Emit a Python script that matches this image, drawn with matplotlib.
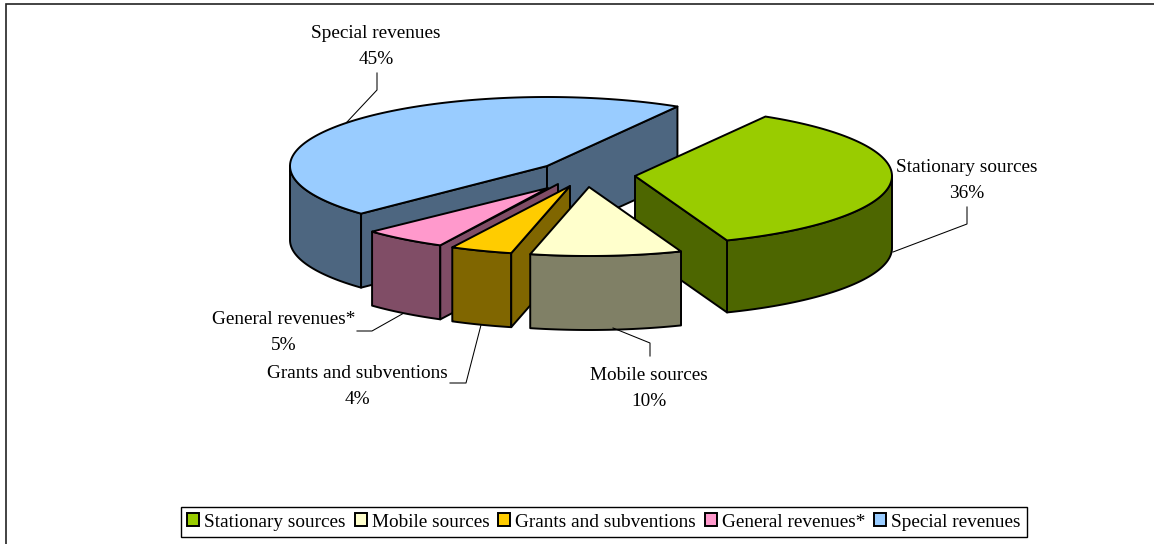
import numpy as np
import matplotlib
matplotlib.use("Agg")
import matplotlib.pyplot as plt
from matplotlib.patches import Polygon, Patch

# ---- data ----
categories = ["Stationary sources", "Mobile sources", "Grants and subventions",
              "General revenues*", "Special revenues"]
shares = [35.7, 9.5, 3.9, 5.3, 45.6]
share_labels = ["36%", "10%", "4%", "5%", "45%"]

# ---- style / layout ----
top_colors = ["#99CC00", "#FFFFCC", "#FFCC00", "#FF99CC", "#99CCFF"]
wall_colors = ["#4D6600", "#808066", "#806600", "#804D66", "#4D6680"]
apexes = [(635, 176), (589, 187), (570, 186), (558, 184), (547, 166)]
tips = [None, None, None, (548, 188), None]
depths = [72, 74, 74, 74, 74]
RX, RY = 257, 69
START = 59.5
draw_order = [4, 0, 3, 2, 1]
LW = 1.4

label_pos = [(967, 167), (649, 376), (357, 373), (284, 320), (376, 33)]
leaders = [[(967, 207), (967, 224), (893, 252)],
           [(650, 356), (650, 343), (613, 328)],
           [(450, 383), (466, 383), (481, 325)],
           [(357, 331), (372, 331), (404, 313)],
           [(377, 73), (377, 90), (347, 122)]]

plt.rcParams["font.family"] = ["Liberation Serif", "DejaVu Serif"]
FS = 13.85

fig = plt.figure(figsize=(11.54, 5.44), dpi=100)
ax = fig.add_axes([0, 0, 1, 1])
ax.set_xlim(0, 1154)
ax.set_ylim(544, 0)
ax.axis("off")

ax.plot([5.5, 5.5, 1154], [544, 3.5, 3.5], color="#222222", lw=1.2, zorder=1,
        solid_joinstyle="miter")


def arc(c, a0, a1, n=60):
    t = np.radians(np.linspace(a0, a1, n))
    return np.column_stack([c[0] + RX * np.cos(t), c[1] - RY * np.sin(t)])


def poly(pts, fc, z):
    ax.add_patch(Polygon(pts, closed=True, facecolor=fc, edgecolor="black",
                         lw=LW, joinstyle="round", zorder=z))


# wedge angle limits, clockwise from START
edges = START - 3.6 * np.cumsum([0] + shares)
z = 5
for i in draw_order:
    hi, lo = edges[i], edges[i + 1]
    c = np.array(apexes[i], float)
    down = np.array([0, depths[i]])
    # rim: only the part on the near side of the ellipse
    a0, a1 = max(lo, -180), min(hi, 0)
    if a1 > a0:
        r = arc(c, a1, a0)
        poly(np.vstack([r, (r + down)[::-1]]), wall_colors[i], z)
        z += 1
    # cut faces that face the viewer
    for ang, visible in ((hi, np.cos(np.radians(hi)) < 0),
                         (lo, np.cos(np.radians(lo)) > 0)):
        if visible:
            p = arc(c, ang, ang, 1)[0]
            poly([c, p, p + down, c + down], wall_colors[i], z)
            z += 1
    # top
    tip = c if tips[i] is None else np.array(tips[i], float)
    poly(np.vstack([[tip], arc(c, hi, lo, 120)]), top_colors[i], z)
    z += 1

for name, pct, pos, path in zip(categories, share_labels, label_pos, leaders):
    ax.text(pos[0], pos[1], name, ha="center", va="center", fontsize=FS,
            color="black", zorder=60)
    ax.text(pos[0], pos[1] + 26, pct, ha="center", va="center", fontsize=FS,
            color="black", zorder=60)
    xs, ys = zip(*path)
    ax.plot(xs, ys, color="black", lw=0.75, zorder=2 if name != "Mobile sources" else 50)

handles = [Patch(facecolor=f, edgecolor="black", lw=LW) for f in top_colors]
leg = ax.legend(handles, categories, ncol=5, loc="center",
                bbox_to_anchor=(604 / 1154, 1 - 522 / 544),
                fontsize=FS, frameon=True, fancybox=False, edgecolor="black",
                framealpha=1, handlelength=0.62, handleheight=0.62,
                handletextpad=0.25, columnspacing=0.475, borderpad=0.35,
                borderaxespad=0)
leg.get_frame().set_linewidth(1.0)
leg.set_zorder(70)

fig.savefig("out.png", dpi=100, facecolor="white")
